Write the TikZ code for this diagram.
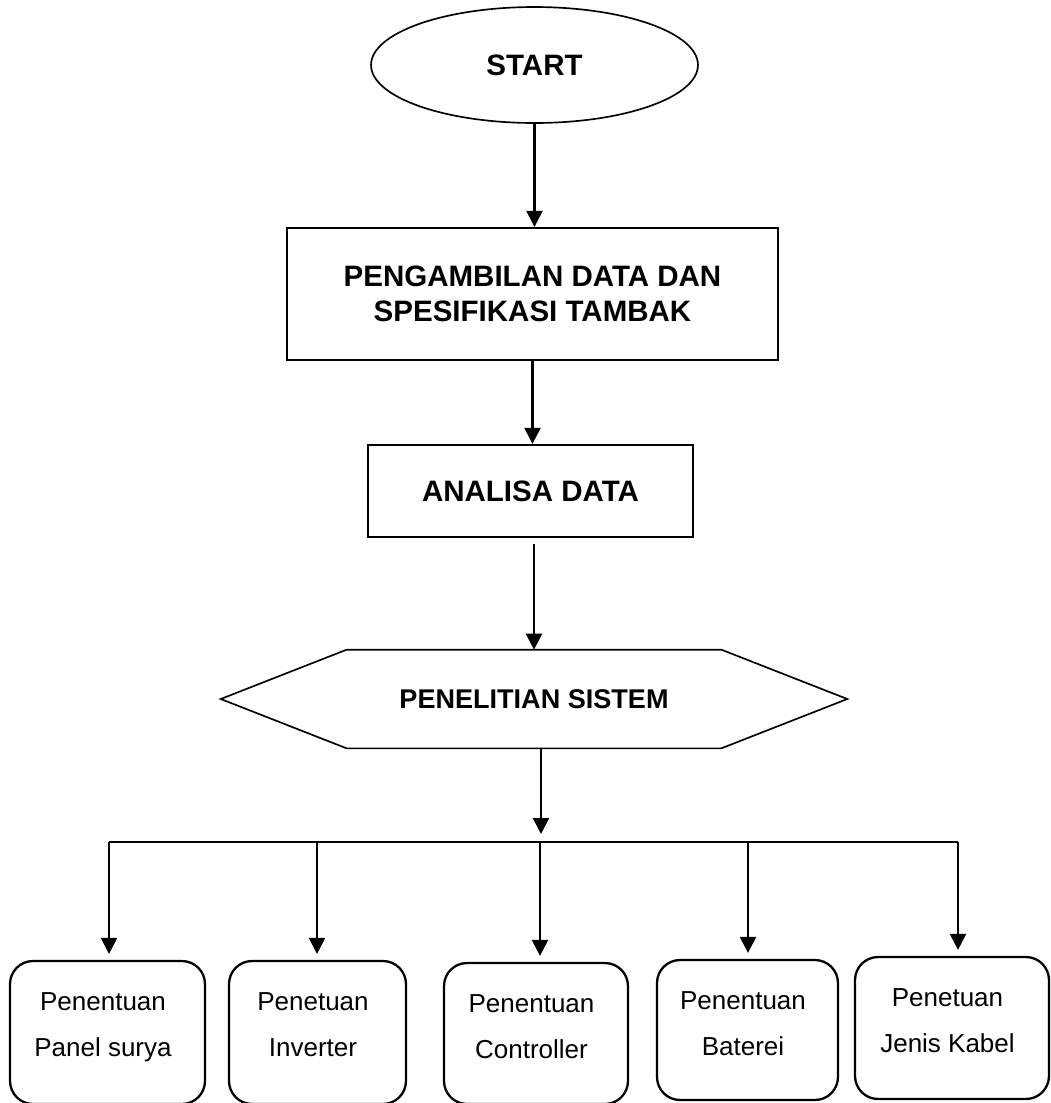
\documentclass[tikz,border=0pt]{standalone}
\usepackage{fontspec}
\setmainfont{Liberation Sans}
\usetikzlibrary{positioning,arrows.meta,shapes.geometric}

\newcommand{\flowfont}{\fontsize{16.8}{19.9}\selectfont\bfseries}
\newcommand{\hexfont}{\fontsize{15.4}{18}\selectfont\bfseries}
\newcommand{\leaffont}{\fontsize{14.8}{26.2}\selectfont}

\tikzset{
  terminal/.style={draw, ellipse, line width=0.95pt, inner sep=0pt, font=\flowfont,
    minimum width=6.54cm, minimum height=2.32cm},
  procbox/.style={draw, rectangle, line width=1.3pt, inner sep=0pt, align=center, font=\flowfont},
  leafbox/.style={draw, rectangle, rounded corners=0.46cm, line width=1.3pt, inner sep=0pt},
  leaflabel/.style={align=center, inner sep=0pt, font=\leaffont, xshift=-0.09cm},
  flowarrow/.style={-{Triangle[length=0.32cm, width=0.32cm]}, line width=1.3pt},
}

\begin{document}
\begin{tikzpicture}[x=0.02cm, y=-0.02cm]
  \useasboundingbox (0,0) rectangle (1051,1103);

  % Main flow
  \node[terminal] (start) at (534.5,65) {START};
  \node[procbox, minimum width=9.82cm, minimum height=2.64cm] (data) at (532.5,294)
    {PENGAMBILAN DATA DAN\\SPESIFIKASI TAMBAK};
  \node[procbox, minimum width=6.5cm, minimum height=1.84cm] (analisa) at (530.5,491) {ANALISA DATA};
  \node[font=\hexfont, inner sep=0pt, minimum width=12.52cm, minimum height=1.96cm] (sistem) at (534,699)
    {PENELITIAN SISTEM};
  \draw[line width=0.95pt] (sistem.west) -- ([xshift=2.52cm]sistem.north west)
    -- ([xshift=-2.52cm]sistem.north east) -- (sistem.east)
    -- ([xshift=-2.52cm]sistem.south east) -- ([xshift=2.52cm]sistem.south west) -- cycle;

  \draw[flowarrow] (start.south) -- (start.south |- data.north);
  \draw[flowarrow] (data.south) -- (data.south |- analisa.north);
  \draw[flowarrow, shorten <=0.12cm] (analisa.south -| sistem.north) -- (sistem.north);

  % Branch line
  \coordinate (split) at (541,842);
  \coordinate (bpanel) at (109,842);
  \coordinate (binverter) at (317,842);
  \coordinate (bcontroller) at (540,842);
  \coordinate (bbaterei) at (748,842);
  \coordinate (bkabel) at (958,842);
  \draw[flowarrow, shorten >=0.16cm] (sistem.south -| split) -- (split);
  \draw[line width=1.3pt] (bpanel) -- (bkabel);

  % Components
  \node[leafbox, minimum width=3.9cm, minimum height=2.86cm] (panel) at (107.5,1032.5) {};
  \node[leafbox, minimum width=3.54cm, minimum height=2.86cm] (inverter) at (317.5,1032.5) {};
  \node[leafbox, minimum width=3.68cm, minimum height=2.82cm] (controller) at (536,1033.5) {};
  \node[leafbox, minimum width=3.62cm, minimum height=2.8cm] (baterei) at (747.5,1030) {};
  \node[leafbox, minimum width=3.88cm, minimum height=2.84cm] (kabel) at (952,1028) {};

  \node[leaflabel, below=0.64cm of panel.north] (panelT) {Penentuan\\Panel surya};
  \node[leaflabel, below=0.64cm of inverter.north] (inverterT) {Penetuan\\Inverter};
  \node[leaflabel, below=0.64cm of controller.north] (controllerT) {Penentuan\\Controller};
  \node[leaflabel, below=0.64cm of baterei.north] (batereiT) {Penentuan\\Baterei};
  \node[leaflabel, below=0.64cm of kabel.north] (kabelT) {Penetuan\\Jenis Kabel};

  \foreach \b/\n in {bpanel/panel, binverter/inverter, bcontroller/controller, bbaterei/baterei, bkabel/kabel}
    \draw[flowarrow, shorten >=0.12cm] (\b) -- (\b |- \n.north);
\end{tikzpicture}
\end{document}
